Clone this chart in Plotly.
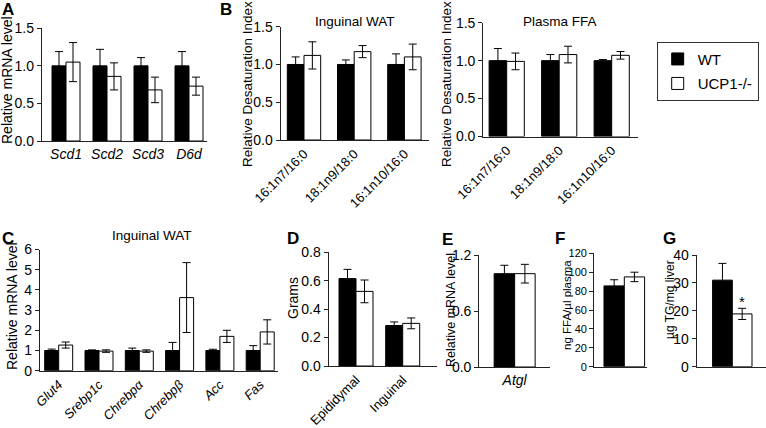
import plotly.graph_objects as go

W, H = 766, 428
FONT = "Liberation Sans, Arial, sans-serif"
AX = "#222222"

# ---------------- data ----------------
genes_A = ["Scd1", "Scd2", "Scd3", "D6d"]
wt_A = [1.0, 1.0, 1.0, 1.0]
wt_A_err = [0.19, 0.22, 0.11, 0.19]
ko_A = [1.05, 0.86, 0.68, 0.73]
ko_A_err = [0.26, 0.18, 0.17, 0.12]

ratios_B = ["16:1n7/16:0", "18:1n9/18:0", "16:1n10/16:0"]
wt_Bi = [1.0, 1.0, 1.0]
wt_Bi_err = [0.10, 0.06, 0.14]
ko_Bi = [1.12, 1.17, 1.10]
ko_Bi_err = [0.18, 0.08, 0.17]

wt_Bp = [1.0, 1.0, 1.0]
wt_Bp_err = [0.16, 0.08, 0.015]
ko_Bp = [0.99, 1.08, 1.07]
ko_Bp_err = [0.11, 0.11, 0.05]

genes_C = ["Glut4", "Srebp1c", "Chrebpα", "Chrebpβ", "Acc", "Fas"]
wt_C = [1.0, 1.0, 1.0, 1.0, 1.0, 1.0]
wt_C_err = [0.07, 0.03, 0.12, 0.40, 0.06, 0.24]
ko_C = [1.27, 0.97, 0.97, 3.62, 1.70, 1.92]
ko_C_err = [0.15, 0.06, 0.06, 1.73, 0.30, 0.60]

tissues_D = ["Epididymal", "Inguinal"]
wt_D = [0.615, 0.285]
wt_D_err = [0.065, 0.025]
ko_D = [0.525, 0.30]
ko_D_err = [0.08, 0.038]

genes_E = ["Atgl"]
wt_E = [1.0]
wt_E_err = [0.09]
ko_E = [1.0]
ko_E_err = [0.10]

cat_F = ["FFA"]
wt_F = [85.5]
wt_F_err = [6.5]
ko_F = [95.0]
ko_F_err = [5.0]

cat_G = ["TG"]
wt_G = [31.0]
wt_G_err = [6.0]
ko_G = [18.9]
ko_G_err = [2.0]

groups = ["WT", "UCP1-/-"]

# ---------------- helpers ----------------
def px(x):
    return x / W

def py(y):
    return 1 - y / H

fig = go.Figure()

def add_pair(n, cats, wt, wte, ko, koe, bw, showlegend=False):
    suffix = "" if n == 1 else str(n)
    common = dict(xaxis="x" + suffix, yaxis="y" + suffix, width=bw)
    fig.add_trace(go.Bar(
        x=cats, y=wt, name=groups[0], offset=-bw, showlegend=showlegend,
        legendgroup="wt",
        marker=dict(color="black", line=dict(color="black", width=1)),
        error_y=dict(type="data", array=wte, color="black", thickness=1, width=4),
        **common))
    fig.add_trace(go.Bar(
        x=cats, y=ko, name=groups[1], offset=0, showlegend=showlegend,
        legendgroup="ko",
        marker=dict(color="white", line=dict(color="black", width=1)),
        error_y=dict(type="data", array=koe, color="black", thickness=1, width=4),
        **common))

layout_axes = {}

def set_axes(n, x0, x1, ytop, ybot, xrange, yrange, tickvals, fmt,
             ytickfont=14, xtickfont=None, tickangle=0, showx=True):
    suffix = "" if n == 1 else str(n)
    layout_axes["xaxis" + suffix] = dict(
        domain=[px(x0), px(x1)], range=xrange, anchor="y" + suffix,
        type="category", showline=True, linecolor=AX, linewidth=1.3,
        ticks="", showgrid=False, zeroline=False, automargin=False,
        showticklabels=showx, tickangle=tickangle,
        tickfont=xtickfont or dict(size=14, color="black", family=FONT),
    )
    layout_axes["yaxis" + suffix] = dict(
        domain=[py(ybot), py(ytop)], range=yrange, anchor="x" + suffix,
        showline=True, linecolor=AX, linewidth=1.3, automargin=False,
        ticks="outside", ticklen=4, tickwidth=1.2, tickcolor=AX,
        tickvals=tickvals, tickformat=fmt, showgrid=False, zeroline=False,
        tickfont=dict(size=ytickfont, color="black", family=FONT),
    )

ital14 = dict(size=14, color="black", family=FONT, style="italic")
ital13 = dict(size=13, color="black", family=FONT, style="italic")
norm13 = dict(size=13, color="black", family=FONT)

# A
uA = 41.0
add_pair(1, genes_A, wt_A, wt_A_err, ko_A, ko_A_err, 14 / uA, showlegend=True)
set_axes(1, 42, 207, 28.3, 141, [-24 / uA, (207 - 66) / uA], [0, 1.5],
         [0, 0.5, 1.0, 1.5], ".1f", xtickfont=ital14)

# B inguinal
uB = 50.2
add_pair(2, ratios_B, wt_Bi, wt_Bi_err, ko_Bi, ko_Bi_err, 16.7 / uB)
set_axes(2, 280.7, 429, 26.7, 140, [-23.3 / uB, (429 - 304) / uB], [0, 1.5],
         [0, 0.5, 1.0, 1.5], ".1f", xtickfont=norm13, tickangle=-45)

# B plasma
uP = 52.5
add_pair(3, ratios_B, wt_Bp, wt_Bp_err, ko_Bp, ko_Bp_err, 17.6 / uP)
set_axes(3, 483.3, 638.3, 22.7, 136.5, [-23.4 / uP, (638.3 - 506.7) / uP], [0, 1.5],
         [0, 0.5, 1.0, 1.5], ".1f", xtickfont=norm13, tickangle=-45)

# C
uC = 40.3
add_pair(4, genes_C, wt_C, wt_C_err, ko_C, ko_C_err, 14 / uC)
set_axes(4, 40, 278, 249.5, 370.7, [-18.7 / uC, (278 - 58.7) / uC], [0, 6],
         [0, 1, 2, 3, 4, 5, 6], "d", xtickfont=ital13, tickangle=-45)

# D
uD = 46.7
add_pair(5, tissues_D, wt_D, wt_D_err, ko_D, ko_D_err, 17 / uD)
set_axes(5, 328.7, 436.5, 252.3, 366, [-27.3 / uD, (436.5 - 356) / uD], [0, 0.8],
         [0, 0.2, 0.4, 0.6, 0.8], ".1f", xtickfont=norm13, tickangle=-45)

# E
uE = 70.7
add_pair(6, genes_E, wt_E, wt_E_err, ko_E, ko_E_err, 20.5 / uE)
set_axes(6, 479.3, 550, 255, 367, [-0.5, 0.5], [0, 1.2],
         [0, 0.6, 1.2], ".1f", xtickfont=ital14)

# F
uF = 52.7
add_pair(7, cat_F, wt_F, wt_F_err, ko_F, ko_F_err, 20.3 / uF)
set_axes(7, 594.3, 647, 253.3, 366.7, [-30 / uF, 22.7 / uF], [0, 120],
         [0, 20, 40, 60, 80, 100, 120], "d", ytickfont=11, showx=False)

# G
uG = 69.3
add_pair(8, cat_G, wt_G, wt_G_err, ko_G, ko_G_err, 19.7 / uG)
set_axes(8, 696.7, 766, 255, 366.7, [-35.6 / uG, 33.7 / uG], [0, 40],
         [0, 10, 20, 30, 40], "d", ytickfont=14, showx=False)

# ---------------- text ----------------
ann = []

def label(text, x, y, size=14, angle=0, bold=False):
    ann.append(dict(
        text=("<b>%s</b>" % text) if bold else text,
        x=px(x), y=py(y), xref="paper", yref="paper",
        xanchor="center", yanchor="middle", showarrow=False, textangle=angle,
        font=dict(size=size, color="black", family=FONT)))

for letter, x, y in [("A", 8, 9), ("B", 226, 9), ("C", 8, 238), ("D", 292.5, 238),
                     ("E", 447.5, 239), ("F", 560, 238), ("G", 669, 238)]:
    label(letter, x, y, size=17, bold=True)

label("Inguinal WAT", 355, 21, size=13.5)
label("Plasma FFA", 560, 21, size=13.5)
label("Inguinal WAT", 152, 235, size=13.5)

label("Relative mRNA level", 7, 80, size=14, angle=-90)
label("Relative Desaturation Index", 247, 84, size=13.5, angle=-90)
label("Relative Desaturation Index", 446, 84, size=13.5, angle=-90)
label("Relative mRNA level", 12, 306, size=14, angle=-90)
label("Grams", 293, 298, size=14, angle=-90)
label("Relative mRNA level", 451, 310, size=12.5, angle=-90)
label("ng FFA/µl plasma", 567, 305, size=11.5, angle=-90)
label("µg TG/mg liver", 670, 300, size=12, angle=-90)

ann.append(dict(text="*", x=0.142, y=23.5, xref="x8", yref="y8",
                xanchor="center", yanchor="middle", showarrow=False,
                font=dict(size=15, color="black", family=FONT)))

fig.update_layout(
    width=W, height=H, margin=dict(l=0, r=0, t=0, b=0, autoexpand=False),
    paper_bgcolor="white", plot_bgcolor="white",
    barmode="overlay",
    font=dict(family=FONT, color="black"),
    annotations=ann,
    legend=dict(x=px(656.7), y=py(41.7), xanchor="left", yanchor="top",
                bordercolor="#333333", borderwidth=1, bgcolor="white",
                font=dict(size=15, color="black", family=FONT),
                itemwidth=30, tracegroupgap=2),
    **layout_axes,
)

fig.write_html("out.html", config={"displayModeBar": False},
               post_script="document.body.style.margin='0';document.body.style.overflow='hidden';")
